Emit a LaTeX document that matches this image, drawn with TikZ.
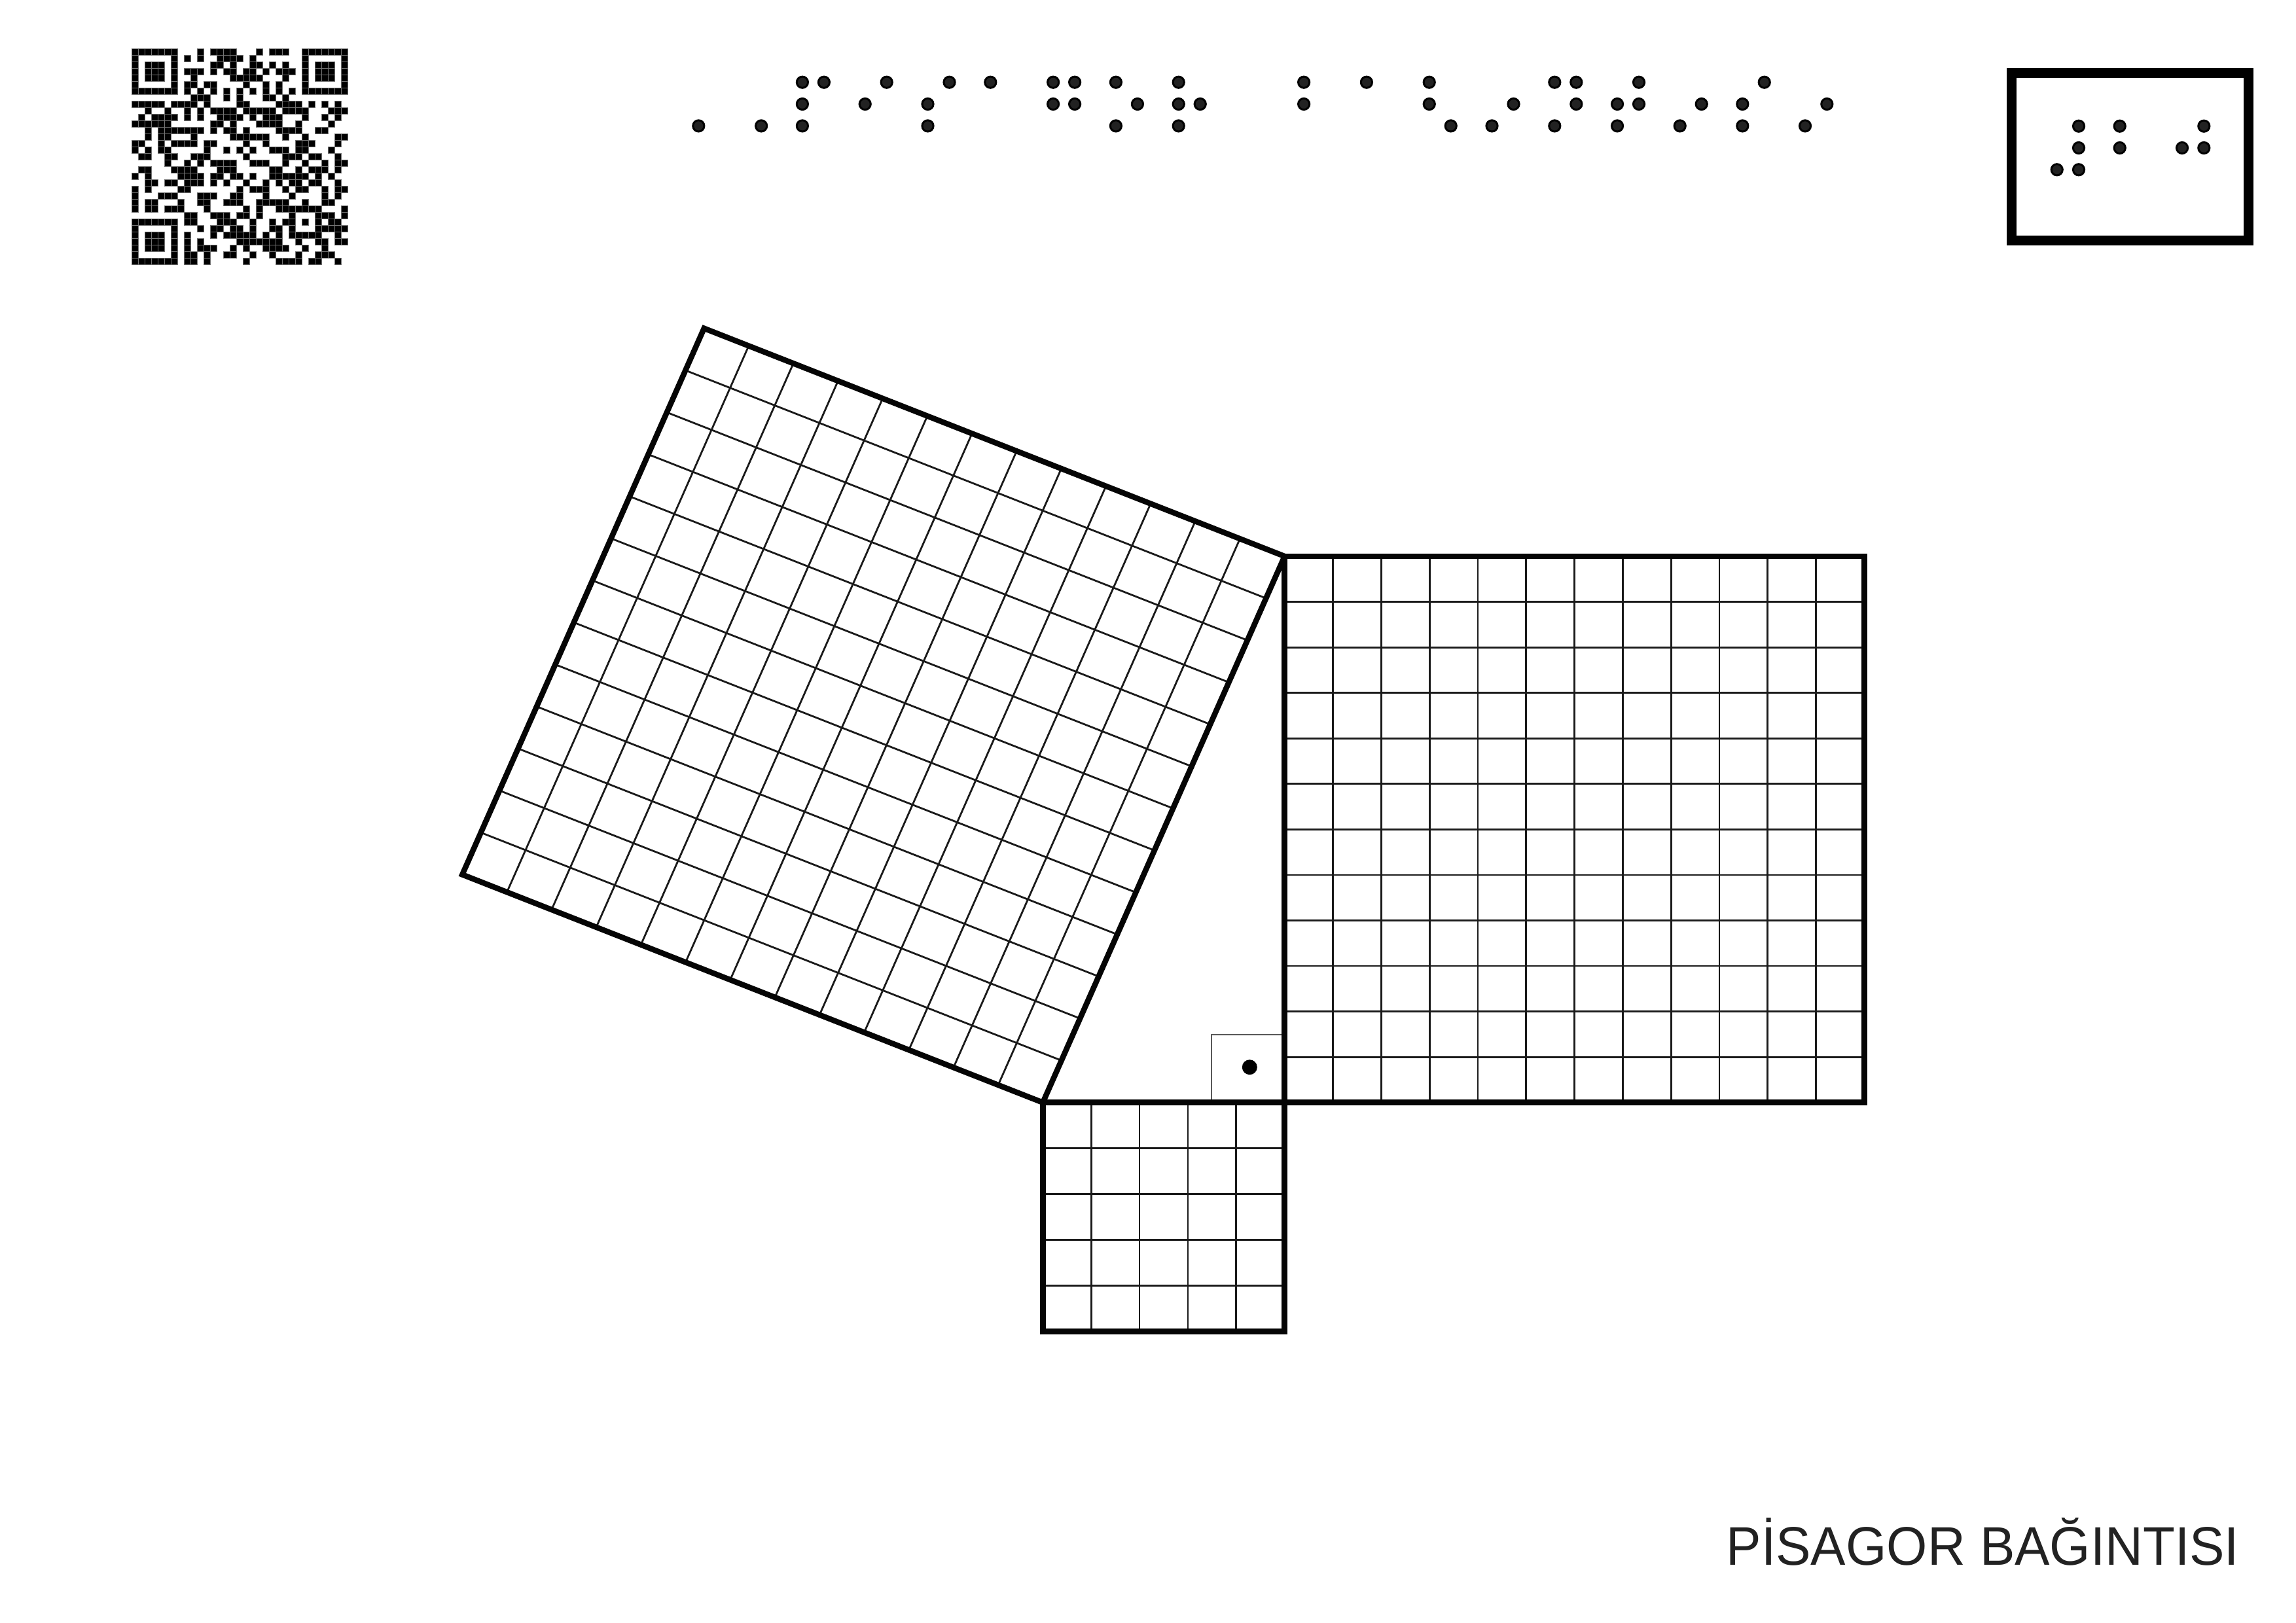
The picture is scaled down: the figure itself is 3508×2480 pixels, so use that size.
\documentclass[tikz,border=0pt]{standalone}
\usepackage{fontspec}
\setmainfont{Liberation Sans}
\newfontfamily\titlefont[FakeStretch=0.965]{Liberation Sans}
\usetikzlibrary{calc}
\definecolor{dotfill}{HTML}{222222}
\definecolor{inkline}{HTML}{050505}
\definecolor{thinline}{HTML}{1A1A1A}
\tikzset{
  thickedge/.style={draw=inkline,line width=8.5pt,line join=miter},
  gridline/.style={draw=thinline,line width=2.8pt},
  anglemark/.style={draw=black!65,line width=1.8pt},
  frameedge/.style={draw=black,line width=15pt},
  qrmodule/.style={fill=black,draw=black!55,line width=0.3pt},
}
\newcommand{\brdot}[2]{\fill[fill=dotfill,draw=black,line width=3pt] (#1,#2) circle[x radius=8.6,y radius=8.6];}
\newcommand{\qrrow}[2]{%
  \foreach \qa/\qb in {#2}{%
    \foreach \qc in {\qa,...,\qb}{%
      \path[qrmodule] ({200.7+10*\qc},{74.3+10*#1}) rectangle ++(10,10);
    }%
  }%
}
\begin{document}
\begin{tikzpicture}[x=1pt,y=-1pt]
\useasboundingbox[fill=white] (0,0) rectangle (3508,2480);

% QR code
\qrrow{0}{0/6,10/10,12/15,19/19,21/23,26/32}
\qrrow{1}{0/0,6/6,8/8,10/10,13/16,18/18,26/26,32/32}
\qrrow{2}{0/0,2/4,6/6,12/13,15/15,18/19,21/21,23/23,26/26,28/30,32/32}
\qrrow{3}{0/0,2/4,6/6,8/10,12/12,14/15,17/18,20/20,22/24,26/26,28/30,32/32}
\qrrow{4}{0/0,2/4,6/6,9/9,15/19,23/23,26/26,28/30,32/32}
\qrrow{5}{0/0,6/6,8/9,11/12,17/17,20/20,22/22,26/26,32/32}
\qrrow{6}{0/6,8/8,10/10,12/12,14/14,16/16,18/18,20/20,22/22,24/24,26/32}
\qrrow{7}{9/11,14/14,16/16,20/21,23/23}
\qrrow{8}{0/4,6/9,11/11,16/17,22/25,27/27,29/29,31/31}
\qrrow{9}{2/2,5/5,8/8,10/10,12/15,17/21,23/26,30/32}
\qrrow{10}{1/1,3/6,8/8,10/10,13/16,18/18,20/22,26/26,29/29,31/31}
\qrrow{11}{0/5,12/13,15/15,19/22,25/25,30/30}
\qrrow{12}{2/2,4/10,12/12,14/15,17/17,22/25,28/29}
\qrrow{13}{2/2,4/5,9/9,15/20,23/23,26/26,31/32}
\qrrow{14}{0/1,4/4,6/9,11/12,17/17,20/20,25/27,31/31}
\qrrow{15}{0/0,2/2,4/5,11/11,14/14,16/16,18/18,21/23,25/26,30/30}
\qrrow{16}{1/2,5/6,9/11,17/17,23/25,27/28,31/31}
\qrrow{17}{5/5,8/8,10/10,12/15,18/20,23/23,26/26,29/29,31/32}
\qrrow{18}{1/2,6/9,13/15,21/22,25/25,27/29,31/31}
\qrrow{19}{0/0,2/2,7/10,12/13,15/16,18/18,21/26,28/28,30/30}
\qrrow{20}{2/3,5/6,8/10,12/12,14/14,17/17,20/20,22/22,24/25,27/28,31/31}
\qrrow{21}{0/0,2/2,7/8,16/16,18/20,23/23,25/26,29/29,31/32}
\qrrow{22}{0/0,4/6,10/12,15/16,20/20,24/24,29/29,31/31}
\qrrow{23}{0/0,2/3,7/7,10/11,14/16,19/23,26/26,29/30}
\qrrow{24}{0/0,2/3,5/7,11/11,17/17,19/19,22/28,32/32}
\qrrow{25}{8/9,12/14,16/17,19/19,24/24,28/30,32/32}
\qrrow{26}{0/6,8/9,13/15,18/18,21/21,23/24,26/26,28/28,30/31}
\qrrow{27}{0/0,6/6,10/10,12/13,15/16,18/18,21/22,24/24,28/32}
\qrrow{28}{0/0,2/4,6/6,8/8,12/12,14/18,20/20,22/22,24/28,31/31}
\qrrow{29}{0/0,2/4,6/6,8/8,10/10,16/22,25/25,28/29,31/32}
\qrrow{30}{0/0,2/4,6/6,8/8,10/12,15/15,17/17,20/23,26/26,29/29}
\qrrow{31}{0/0,6/6,8/9,11/11,14/15,18/18,21/21,25/25,28/30}
\qrrow{32}{0/6,8/9,11/11,17/17,22/25,27/28,31/31}

% Top braille line
\foreach \bx in {1225.9,1258.9,1354.7,1450.5,1513.3,1609.1,1642.1,1704.9,1800.7,1992.1,2087.9,2183.7,2375.3,2408.3,2504,2695.7}{\brdot{\bx}{125.7}}
\foreach \bx in {1225.9,1321.7,1417.5,1609.1,1642.1,1737.9,1800.7,1833.7,1992.1,2183.7,2312.5,2408.3,2471,2504,2599.7,2662.3,2791.3}{\brdot{\bx}{159}}
\foreach \bx in {1067.3,1163.1,1225.9,1417.5,1704.9,1800.7,2216.7,2279.5,2375.3,2471,2566.7,2662.3,2758}{\brdot{\bx}{192.4}}

% Framed braille, top right
\draw[frameedge] (3073.5,111.5) rectangle (3435.8,367.5);
\foreach \bx in {3176,3238.7,3367.3}{\brdot{\bx}{192.7}}
\foreach \bx in {3176,3238.7,3334,3367.3}{\brdot{\bx}{226}}
\foreach \bx in {3142.7,3176}{\brdot{\bx}{259.3}}

% Corners
\coordinate (T) at (1075.7,501.7);
\coordinate (R) at (1962.7,850);
\coordinate (B) at (1593.3,1684.7);
\coordinate (L) at (706.3,1336.4);
\coordinate (RB) at (1962.7,1684.7);
\coordinate (BR) at (2848.3,1684.7);
\coordinate (TR) at (2848.3,850);
\coordinate (SL) at (1593.3,2034.3);
\coordinate (SR) at (1962.7,2034.3);

% Hypotenuse square grid
\foreach \i in {1,...,12}{
  \draw[gridline] ($(T)!\i/13!(R)$) -- ($(L)!\i/13!(B)$);
  \draw[gridline] ($(T)!\i/13!(L)$) -- ($(R)!\i/13!(B)$);
}
% Right square grid
\foreach \i in {1,...,11}{
  \draw[gridline] ($(R)!\i/12!(TR)$) -- ($(RB)!\i/12!(BR)$);
  \draw[gridline] ($(R)!\i/12!(RB)$) -- ($(TR)!\i/12!(BR)$);
}
% Small square grid
\foreach \i in {1,...,4}{
  \draw[gridline] ($(B)!\i/5!(RB)$) -- ($(SL)!\i/5!(SR)$);
  \draw[gridline] ($(B)!\i/5!(SL)$) -- ($(RB)!\i/5!(SR)$);
}
% Right angle mark
\coordinate (MA) at (1851,1684.7);
\coordinate (MB) at (1851,1580.8);
\coordinate (MC) at (1962.7,1580.8);
\draw[anglemark] (MA) -- (MB) -- (MC);
\fill[black] (1909.3,1630.7) circle[radius=11.5];

% Thick outlines
\draw[thickedge] (T) -- (R) -- (B) -- (L) -- cycle;
\draw[thickedge] (R) -- (TR) -- (BR) -- (RB) -- cycle;
\draw[thickedge] (B) -- (RB) -- (SR) -- (SL) -- cycle;

% Title
\node[anchor=base west,inner sep=0pt,text=dotfill,font=\titlefont\fontsize{83}{92}\selectfont] (title) at (2637.6,2391.7) {PİSAGOR BAĞINTISI};
\end{tikzpicture}
\end{document}
